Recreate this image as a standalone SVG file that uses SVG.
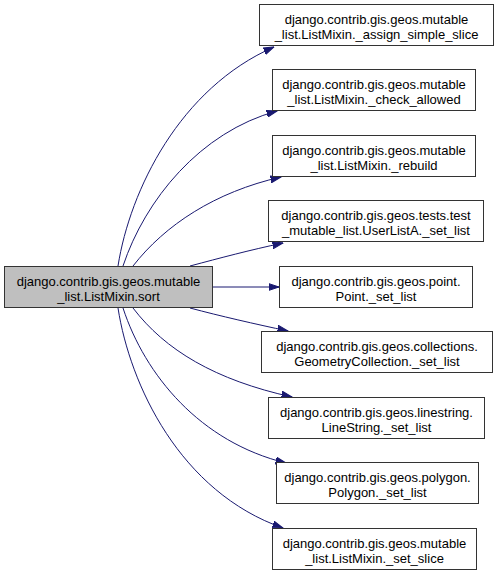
<svg xmlns="http://www.w3.org/2000/svg" width="496" height="575" viewBox="0 0 496 575">
<style>
.n rect{fill:#ffffff;stroke:#333333;stroke-width:1}
.n.src rect{fill:#bfbfbf}
.n text{font-family:"Liberation Sans",Arial,sans-serif;font-size:13px;fill:#000000;text-anchor:middle}
.e path{fill:none;stroke:#191970;stroke-width:1}
</style>
<defs>
<marker id="ah" markerUnits="userSpaceOnUse" markerWidth="11" markerHeight="8" refX="10.5" refY="4" orient="auto">
<path d="M0,0.5 L10.5,4 L0,7.5 z" fill="#191970" stroke="#191970" stroke-width="1"/>
</marker>
</defs>
<rect width="496" height="575" fill="#ffffff"/>
<g id="edges" class="e">
<path d="M118,266 C130,190 180,88 274,47" marker-end="url(#ah)"/>
<path d="M123,266 C145,200 200,132 277,111" marker-end="url(#ah)"/>
<path d="M133,266 C165,225 215,192 281,177" marker-end="url(#ah)"/>
<path d="M190,266 C220,258 250,250 283,243" marker-end="url(#ah)"/>
<path d="M212,287 L279,287" marker-end="url(#ah)"/>
<path d="M190,308 C220,316 255,324 288,331" marker-end="url(#ah)"/>
<path d="M133,308 C165,350 215,380 292,397" marker-end="url(#ah)"/>
<path d="M123,308 C145,375 200,442 286,463" marker-end="url(#ah)"/>
<path d="M118,308 C130,385 180,492 283,528" marker-end="url(#ah)"/>
</g>
<g id="node_sort" class="n src">
<rect x="4.5" y="266.5" width="208" height="41"/>
<text x="108.5" y="286">django.contrib.gis.geos.mutable</text>
<text x="108.5" y="301">_list.ListMixin.sort</text>
</g>
<g id="node_assign_simple_slice" class="n">
<rect x="259.5" y="4.5" width="234" height="41"/>
<text x="376.5" y="24">django.contrib.gis.geos.mutable</text>
<text x="376.5" y="39">_list.ListMixin._assign_simple_slice</text>
</g>
<g id="node_check_allowed" class="n">
<rect x="272.5" y="69.5" width="203" height="41"/>
<text x="374" y="89">django.contrib.gis.geos.mutable</text>
<text x="374" y="104">_list.ListMixin._check_allowed</text>
</g>
<g id="node_rebuild" class="n">
<rect x="272.5" y="135.5" width="203" height="41"/>
<text x="374" y="155">django.contrib.gis.geos.mutable</text>
<text x="374" y="170">_list.ListMixin._rebuild</text>
</g>
<g id="node_userlista_set_list" class="n">
<rect x="268.5" y="200.5" width="215" height="41"/>
<text x="376" y="220">django.contrib.gis.geos.tests.test</text>
<text x="376" y="235">_mutable_list.UserListA._set_list</text>
</g>
<g id="node_point_set_list" class="n">
<rect x="279.5" y="266.5" width="193" height="41"/>
<text x="376" y="286">django.contrib.gis.geos.point.</text>
<text x="376" y="301">Point._set_list</text>
</g>
<g id="node_geometrycollection_set_list" class="n">
<rect x="261.5" y="331.5" width="231" height="41"/>
<text x="377" y="351">django.contrib.gis.geos.collections.</text>
<text x="377" y="366">GeometryCollection._set_list</text>
</g>
<g id="node_linestring_set_list" class="n">
<rect x="268.5" y="397.5" width="216" height="41"/>
<text x="376.5" y="417">django.contrib.gis.geos.linestring.</text>
<text x="376.5" y="432">LineString._set_list</text>
</g>
<g id="node_polygon_set_list" class="n">
<rect x="276.5" y="462.5" width="202" height="41"/>
<text x="377.5" y="482">django.contrib.gis.geos.polygon.</text>
<text x="377.5" y="497">Polygon._set_list</text>
</g>
<g id="node_set_slice" class="n">
<rect x="272.5" y="528.5" width="204" height="41"/>
<text x="374.5" y="548">django.contrib.gis.geos.mutable</text>
<text x="374.5" y="563">_list.ListMixin._set_slice</text>
</g>
</svg>
